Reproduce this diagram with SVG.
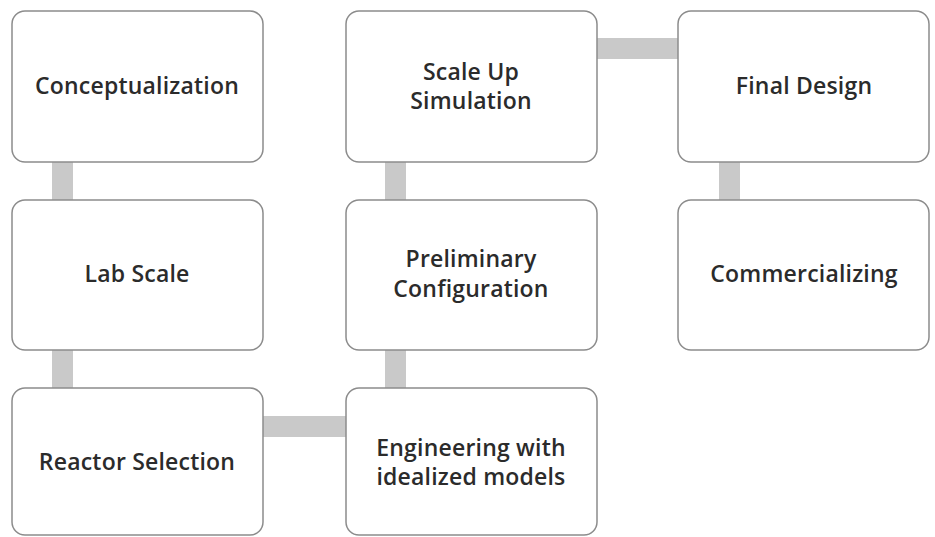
<svg xmlns="http://www.w3.org/2000/svg" width="935" height="537" viewBox="0 0 935 537">
<style>
.box{fill:#fff;stroke:#8c8c8c;stroke-width:1.5}
.lbl{font-family:"Open Sans","Noto Sans","Liberation Sans",sans-serif;font-size:23px;fill:#2b2b2b;text-anchor:middle;font-weight:600;letter-spacing:0.2px}
.con{fill:#c9c9c9}
</style>
<rect width="935" height="537" fill="#fff"/>
<g id="connectors">
<rect class="con" x="52" y="161" width="21" height="40"/>
<rect class="con" x="52" y="349" width="21" height="40"/>
<rect class="con" x="262" y="416" width="85" height="21"/>
<rect class="con" x="385" y="349" width="21" height="40"/>
<rect class="con" x="385" y="161" width="21" height="40"/>
<rect class="con" x="596" y="38" width="83" height="21"/>
<rect class="con" x="719" y="161" width="21" height="40"/>
</g>
<g id="conceptualization">
<rect class="box" x="12" y="11" width="251" height="151" rx="13"/>
<text class="lbl" x="137" y="94">Conceptualization</text>
</g>
<g id="lab-scale">
<rect class="box" x="12" y="200" width="251" height="150" rx="13"/>
<text class="lbl" x="137" y="282">Lab Scale</text>
</g>
<g id="reactor-selection">
<rect class="box" x="12" y="388" width="251" height="147" rx="13"/>
<text class="lbl" x="137" y="470">Reactor Selection</text>
</g>
<g id="engineering">
<rect class="box" x="346" y="388" width="251" height="147" rx="13"/>
<text class="lbl" x="471" y="456">Engineering with</text>
<text class="lbl" x="471" y="485">idealized models</text>
</g>
<g id="preliminary">
<rect class="box" x="346" y="200" width="251" height="150" rx="13"/>
<text class="lbl" x="471" y="267">Preliminary</text>
<text class="lbl" x="471" y="297">Configuration</text>
</g>
<g id="scale-up">
<rect class="box" x="346" y="11" width="251" height="151" rx="13"/>
<text class="lbl" x="471" y="80">Scale Up</text>
<text class="lbl" x="471" y="109">Simulation</text>
</g>
<g id="final-design">
<rect class="box" x="678" y="11" width="251" height="151" rx="13"/>
<text class="lbl" x="804" y="94">Final Design</text>
</g>
<g id="commercializing">
<rect class="box" x="678" y="200" width="251" height="150" rx="13"/>
<text class="lbl" x="804" y="282">Commercializing</text>
</g>
</svg>
